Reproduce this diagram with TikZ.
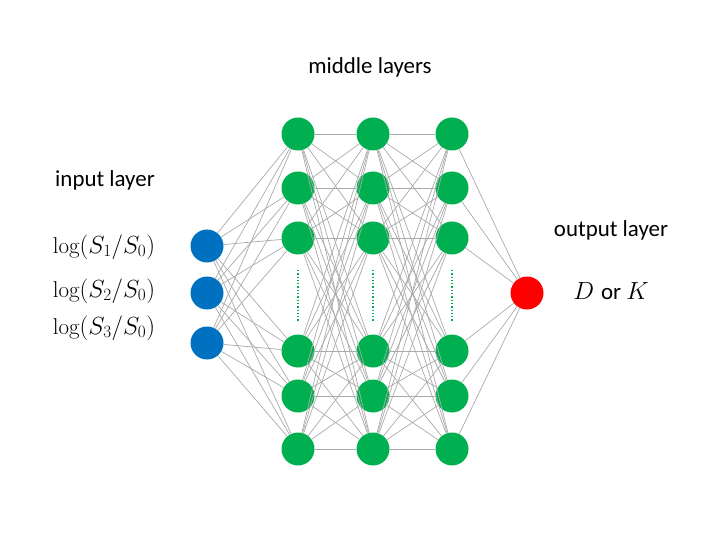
\documentclass[tikz,border=0pt]{standalone}
\usepackage{fontspec}
\setsansfont{Carlito}
\definecolor{nngreen}{RGB}{0,176,80}
\definecolor{nnblue}{RGB}{0,112,192}
\definecolor{nnred}{RGB}{255,0,0}
\definecolor{nngray}{RGB}{170,170,170}
\begin{document}
\begin{tikzpicture}[x=1bp,y=-1bp]
\tikzset{neuron/.style={circle,minimum size=33bp,inner sep=0pt}}
\tikzset{inunit/.style={neuron,fill=nnblue}}
\tikzset{hidunit/.style={neuron,fill=nngreen}}
\tikzset{outunit/.style={neuron,fill=nnred}}
\tikzset{wire/.style={draw=nngray,line width=0.7bp}}
\tikzset{caption/.style={font=\sffamily\fontsize{23}{28}\selectfont}}
\tikzset{mathlabel/.style={font=\fontsize{23}{28}\selectfont}}
\useasboundingbox (0,0) rectangle (720,540);
% input layer
\foreach \i/\y in {1/246,2/293,3/343}
  \node[inunit] (in\i) at (207,\y) {};
% middle layers
\foreach \c/\x in {1/298,2/373,3/452}{
  \foreach \r/\y in {1/134,2/188,3/238,4/351,5/396,6/449}
    \node[hidunit] (h\c-\r) at (\x,\y) {};
  \draw[nngreen,dotted,line width=1.3bp] (\x,270) -- (\x,322);
}
% output layer
\node[outunit] (out) at (527,293) {};
% connections
\foreach \i in {1,2,3}
  \foreach \r in {1,...,6}
    \draw[wire] (in\i) -- (h1-\r);
\foreach \r in {1,...,6}
  \foreach \s in {1,...,6}{
    \draw[wire] (h1-\r) -- (h2-\s);
    \draw[wire] (h2-\r) -- (h3-\s);
  }
\foreach \r in {1,...,6}
  \draw[wire] (h3-\r) -- (out);
% labels
\node[caption] (midlab) at (370,67) {middle layers};
\node[caption] (inlab) at (105,180) {input layer};
\node[caption] (outlab) at (611,230) {output layer};
\node[mathlabel] (s1) at (104,247) {$\log(S_1/S_0)$};
\node[mathlabel] (s2) at (104,291) {$\log(S_2/S_0)$};
\node[mathlabel] (s3) at (104,328) {$\log(S_3/S_0)$};
\node[mathlabel] (dk) at (611,291) {$D$ \sffamily or $K$};
\end{tikzpicture}
\end{document}
